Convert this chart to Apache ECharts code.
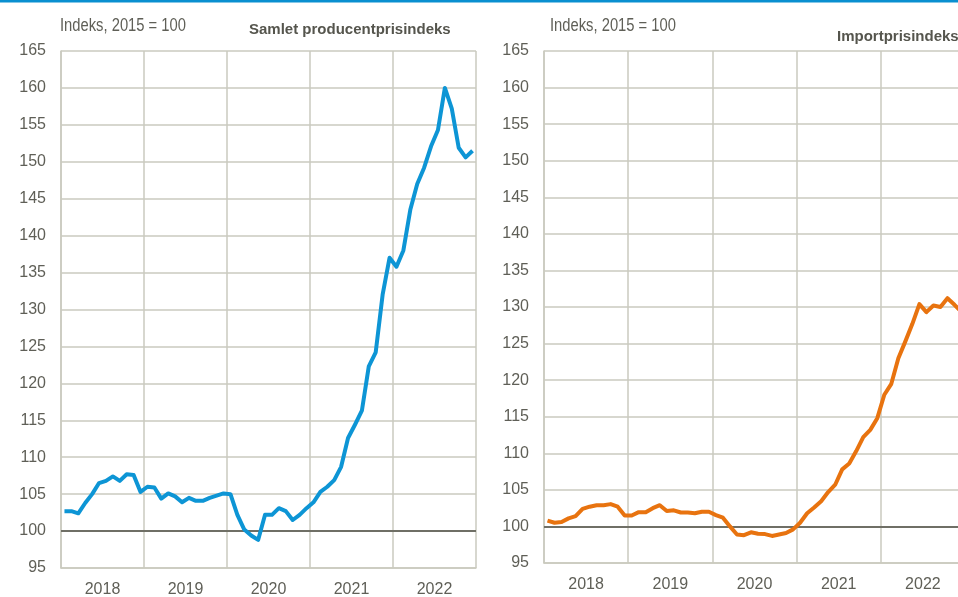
<!DOCTYPE html>
<html>
<head>
<meta charset="utf-8">
<script src="https://cdn.jsdelivr.net/npm/echarts@6/dist/echarts.min.js"></script>
<style>
html,body{margin:0;padding:0;background:#fff;overflow:hidden;}
#c{width:958px;height:597px;}
</style>
</head>
<body>
<div id="c"></div>
<script>
const years = ['2018','2019','2020','2021','2022'];
const months = [];
years.forEach(y => { for (let m = 1; m <= 12; m++) months.push(y + '-' + (m < 10 ? '0' + m : m)); });
const yTicks = [95,100,105,110,115,120,125,130,135,140,145,150,155,160,165];

const titleLeft = 'Samlet producentprisindeks';
const titleRight = 'Importprisindeks';
const unitLabel = 'Indeks, 2015 = 100';

const producentValues = [
  102.7,102.7,102.4,103.8,105.0,106.5,106.8,107.4,106.8,107.7,107.6,105.3,
  106.0,105.9,104.4,105.1,104.7,103.9,104.5,104.1,104.1,104.5,104.8,105.1,
  105.0,102.2,100.2,99.4,98.8,102.2,102.2,103.1,102.7,101.5,102.2,103.1,
  103.9,105.3,106.0,106.9,108.7,112.6,114.4,116.3,122.3,124.2,132.0,137.0,
  135.8,138.0,143.5,147.0,149.2,152.1,154.3,160.0,157.2,151.9,150.6,151.5
];
const importValues = [
  100.8,100.5,100.6,101.1,101.4,102.4,102.7,102.9,102.9,103.05,102.7,101.5,
  101.5,101.95,101.95,102.5,102.9,102.1,102.2,101.9,101.9,101.8,102.0,102.0,
  101.55,101.2,100.0,98.9,98.8,99.2,99.0,98.95,98.7,98.9,99.1,99.6,
  100.5,101.8,102.6,103.45,104.7,105.7,107.8,108.6,110.3,112.2,113.2,114.8,
  118.0,119.5,123.0,125.3,127.7,130.4,129.3,130.2,130.0,131.2,130.3,129.3
];

const gridColor = '#cacabf';
const textColor = '#5f5f57';
const sans = '"Liberation Sans", Arial, sans-serif';

function yAxis(gi) {
  return {
    type: 'value', gridIndex: gi, min: 95, max: 165, interval: 5,
    axisLine: { show: true, lineStyle: { color: gridColor, width: 1.5 } },
    axisTick: { show: false },
    axisLabel: { color: textColor, fontFamily: sans, fontSize: 16, margin: 15 },
    splitLine: { lineStyle: { color: gridColor, width: 1.5 } }
  };
}
function yearAxis(gi) {
  return {
    type: 'category', gridIndex: gi, data: years, boundaryGap: true, position: 'bottom',
    axisLine: { show: true, lineStyle: { color: gridColor, width: 1.5 } },
    axisTick: { show: false },
    axisLabel: { color: textColor, fontFamily: sans, fontSize: 16, margin: 14, interval: 0 },
    splitLine: { show: true, interval: 0, lineStyle: { color: gridColor, width: 1.5 } }
  };
}
function monthAxis(gi) {
  return { type: 'category', gridIndex: gi, data: months, boundaryGap: true, show: false };
}
function unitText(x) {
  return { type: 'text', left: x, top: 17, scaleX: 0.82,
    style: { text: unitLabel, fill: textColor, font: '18px ' + sans } };
}

const chart = echarts.init(document.getElementById('c'), null, { renderer: 'canvas' });
chart.setOption({
  animation: false,
  backgroundColor: '#ffffff',
  graphic: [
    { type: 'rect', left: 0, top: 0, shape: { width: 958, height: 2.5 }, style: { fill: '#0a8fd0' } },
    unitText(60),
    { type: 'text', left: 249, top: 22, style: { text: titleLeft, fill: '#55554d', font: 'bold 15px ' + sans } },
    unitText(550),
    { type: 'text', left: 837, top: 29, style: { text: titleRight, fill: '#55554d', font: 'bold 15px ' + sans } }
  ],
  grid: [
    { left: 61, top: 51, width: 415, height: 517, outerBoundsMode: 'none', containLabel: false },
    { left: 544, top: 51, width: 421, height: 512, outerBoundsMode: 'none', containLabel: false }
  ],
  xAxis: [yearAxis(0), monthAxis(0), yearAxis(1), monthAxis(1)],
  yAxis: [yAxis(0), yAxis(1)],
  series: [
    {
      type: 'line', xAxisIndex: 1, yAxisIndex: 0, data: [], z: 1, silent: true,
      markLine: { symbol: 'none', silent: true, label: { show: false },
        lineStyle: { color: '#6f6f66', width: 2, type: 'solid' }, data: [{ yAxis: 100 }] }
    },
    {
      type: 'line', xAxisIndex: 1, yAxisIndex: 0, data: producentValues, z: 5,
      showSymbol: false, symbol: 'none',
      lineStyle: { color: '#0d95d5', width: 4, join: 'round' }
    },
    {
      type: 'line', xAxisIndex: 3, yAxisIndex: 1, data: [], z: 1, silent: true,
      markLine: { symbol: 'none', silent: true, label: { show: false },
        lineStyle: { color: '#6f6f66', width: 2, type: 'solid' }, data: [{ yAxis: 100 }] }
    },
    {
      type: 'line', xAxisIndex: 3, yAxisIndex: 1, data: importValues, z: 5,
      showSymbol: false, symbol: 'none',
      lineStyle: { color: '#e8730f', width: 4, join: 'round' }
    }
  ]
});
</script>
</body>
</html>
